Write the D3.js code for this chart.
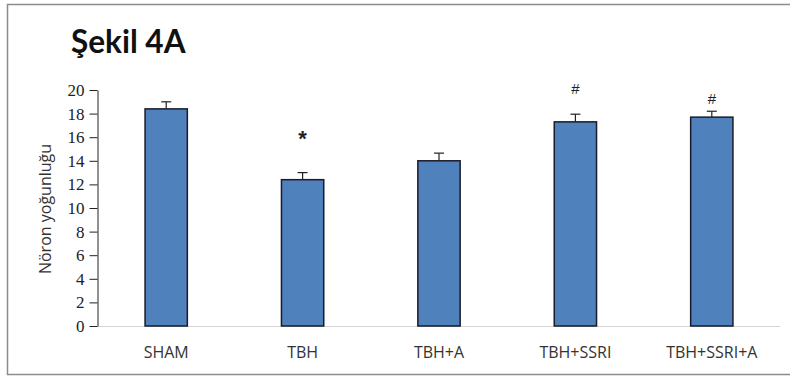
<!DOCTYPE html>
<html><head><meta charset="utf-8">
<script src="https://cdn.jsdelivr.net/npm/d3@7"></script>
<style>body{margin:0;background:#fff}svg{display:block}</style>
</head><body>
<svg id="chart" width="790" height="379"></svg>
<script>
const categories = ["SHAM", "TBH", "TBH+A", "TBH+SSRI", "TBH+SSRI+A"];
const values = [18.4, 12.4, 14.0, 17.3, 17.7];
const errors = [0.6, 0.6, 0.65, 0.65, 0.5];
const marks = ["", "*", "", "#", "#"];
const markLevels = [null, 16.3, null, 20.1, 19.25];
const yTicks = [0, 2, 4, 6, 8, 10, 12, 14, 16, 18, 20];
const title = "Şekil 4A";
const yTitle = "Nöron yoğunluğu";

const svg = d3.select("#chart");
svg.append("rect").attr("x", 7.5).attr("y", 4.5).attr("width", 790).attr("height", 370)
  .attr("fill", "#fff").attr("stroke", "#8c8c8c").attr("stroke-width", 1.5);

const x = d3.scaleBand().domain(categories).range([98, 780]).paddingInner(0.69).paddingOuter(0.345);
const y = d3.scaleLinear().domain([0, 20]).range([326, 90]);

svg.append("text").attr("x", 71).attr("y", 53).attr("font-family", "Lato, 'Open Sans', sans-serif")
  .attr("font-weight", "bold").attr("font-size", 31.5).attr("fill", "#111").text(title);

// x baseline
svg.append("line").attr("x1", 98).attr("x2", 780).attr("y1", y(0) + 0.5).attr("y2", y(0) + 0.5)
  .attr("stroke", "#d4d4d4").attr("stroke-width", 1);

// bars
svg.selectAll("rect.bar").data(values).join("rect").attr("class", "bar")
  .attr("x", (d, i) => x(categories[i]))
  .attr("y", d => y(d))
  .attr("width", x.bandwidth())
  .attr("height", d => y(0) - y(d))
  .attr("fill", "#4f81bd").attr("stroke", "#1a1a2a").attr("stroke-width", 1.5);

// error bars
const eg = svg.append("g").attr("stroke", "#222").attr("stroke-width", 1.2);
values.forEach((v, i) => {
  const cx = x(categories[i]) + x.bandwidth() / 2;
  eg.append("line").attr("x1", cx).attr("x2", cx).attr("y1", y(v)).attr("y2", y(v + errors[i]));
  eg.append("line").attr("x1", cx - 5).attr("x2", cx + 5).attr("y1", y(v + errors[i])).attr("y2", y(v + errors[i]));
});

// significance marks
marks.forEach((m, i) => {
  if (!m) return;
  const cx = x(categories[i]) + x.bandwidth() / 2;
  svg.append("text").attr("x", cx).attr("y", y(markLevels[i]))
    .attr("text-anchor", "middle").attr("dominant-baseline", "central")
    .attr("font-family", "'Liberation Sans', Arial, sans-serif")
    .attr("font-weight", m === "*" ? "bold" : "normal")
    .attr("font-size", m === "*" ? 22 : 15).attr("fill", "#222")
    .attr("dy", m === "*" ? 5 : 0)
    .text(m);
});

// y axis
const yAxis = d3.axisLeft(y).tickValues(yTicks).tickSize(8).tickSizeOuter(0);
const ga = svg.append("g").attr("transform", "translate(97.5,0)").call(yAxis);
ga.select(".domain").attr("stroke", "#222").attr("stroke-width", 1);
ga.selectAll(".tick line").attr("stroke", "#222");
ga.selectAll(".tick text").attr("font-family", "'Liberation Serif', 'Times New Roman', serif")
  .attr("font-size", 17).attr("fill", "#222").attr("x", -13);

// x labels
const xAxis = d3.axisBottom(x).tickSize(0);
const gx = svg.append("g").attr("transform", `translate(0,${y(0)})`).call(xAxis);
gx.select(".domain").remove();
gx.selectAll(".tick text").attr("font-family", "'Open Sans', 'Liberation Sans', sans-serif")
  .attr("font-size", 16).attr("fill", "#333").attr("dy", 0).attr("y", 32);

// y title
svg.append("text").attr("transform", "translate(51,209) rotate(-90)")
  .attr("text-anchor", "middle").attr("font-family", "'Open Sans', 'Liberation Sans', sans-serif")
  .attr("font-size", 16).attr("fill", "#333").text(yTitle);
</script>
</body></html>
